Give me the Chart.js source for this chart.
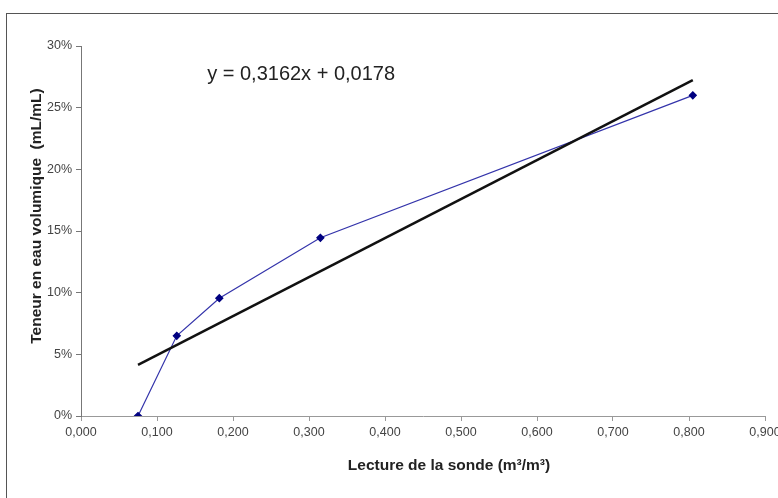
<!DOCTYPE html>
<html>
<head>
<meta charset="utf-8">
<script src="https://cdn.jsdelivr.net/npm/chart.js@4/dist/chart.umd.min.js"></script>
<style>
  html, body { margin: 0; padding: 0; background: #fff; }
  #wrap { position: relative; width: 778px; height: 498px; }
  #cadre { position: absolute; left: 6px; top: 13px; right: -2px; bottom: -2px;
           border-left: 1px solid #555; border-top: 1px solid #555; pointer-events: none; }
</style>
</head>
<body>
<div id="wrap">
  <canvas id="grafico" width="778" height="498"></canvas>
  <div id="cadre"></div>
</div>
<script>
// mesures : lecture de la sonde vs teneur en eau
const lectures = [0.075, 0.126, 0.182, 0.315, 0.805];
const teneurs = [0.0, 0.065, 0.0955, 0.1445, 0.26];
// droite de régression (Excel)
const pente = 0.3162;
const ordonnee = 0.0178;
const equation = 'y = 0,3162x + 0,0178';
const xTicks = [0, 0.1, 0.2, 0.3, 0.4, 0.5, 0.6, 0.7, 0.8, 0.9];
const yTicks = [0, 0.05, 0.10, 0.15, 0.20, 0.25, 0.30];
const titreX = 'Lecture de la sonde (m³/m³)';
const titreY = 'Teneur en eau volumique  (mL/mL)';

const points = lectures.map((x, i) => ({ x: x, y: teneurs[i] }));
const xMin = Math.min(...lectures), xMax = Math.max(...lectures);
const tendance = [
    { x: xMin, y: pente * xMin + ordonnee },
    { x: xMax, y: pente * xMax + ordonnee }
];

const police = '"Liberation Sans", Arial, sans-serif';

const textes = {
    id: 'textes',
    afterDraw(chart) {
        const c = chart.ctx;
        const sx = chart.scales.x, sy = chart.scales.y;
        c.save();
        c.fillStyle = '#222';
        c.font = '20px ' + police;
        c.textAlign = 'left';
        c.textBaseline = 'middle';
        c.fillText(equation, sx.getPixelForValue(0.166), sy.getPixelForValue(0.2765));

        c.font = 'bold 15.5px ' + police;
        c.textAlign = 'center';
        c.fillText(titreX, 449, 466);
        c.translate(37, 216);
        c.rotate(-Math.PI / 2);
        c.fillText(titreY, 0, 0);
        c.restore();
    }
};

const ctx = document.getElementById('grafico').getContext('2d');
new Chart(ctx, {
    type: 'scatter',
    data: {
        datasets: [{
            label: 'Mesures',
            data: points,
            showLine: true,
            borderColor: '#3333aa',
            borderWidth: 1.2,
            pointStyle: 'rectRot',
            pointRadius: 3.5,
            pointBackgroundColor: '#000080',
            pointBorderColor: '#000080',
            order: 2
        }, {
            label: 'Tendance',
            data: tendance,
            showLine: true,
            borderColor: '#111',
            borderWidth: 2.5,
            pointRadius: 0,
            order: 1
        }]
    },
    options: {
        responsive: false,
        animation: false,
        layout: { padding: { left: 0, right: 13, top: 46, bottom: 0 } },
        plugins: { legend: { display: false }, tooltip: { enabled: false } },
        scales: {
            x: {
                type: 'linear',
                min: 0, max: 0.9,
                afterBuildTicks: s => { s.ticks = xTicks.map(v => ({ value: v })); },
                afterFit: s => { s.height = 82; s.paddingLeft = 0; s.paddingRight = 0; },
                ticks: {
                    color: '#444',
                    font: { family: police, size: 12.5 },
                    padding: 4,
                    maxRotation: 0,
                    callback: v => v.toFixed(3).replace('.', ',')
                },
                grid: { drawOnChartArea: false, drawTicks: true, tickLength: 5, color: '#999' },
                border: { color: '#999', width: 1 }
            },
            y: {
                min: 0, max: 0.3,
                afterBuildTicks: s => { s.ticks = yTicks.map(v => ({ value: v })); },
                afterFit: s => { s.width = 81; s.paddingTop = 0; s.paddingBottom = 0; },
                ticks: {
                    color: '#444',
                    font: { family: police, size: 12.5 },
                    padding: 4,
                    callback: v => Math.round(v * 100) + '%'
                },
                grid: { drawOnChartArea: false, drawTicks: true, tickLength: 5, color: '#777' },
                border: { color: '#777', width: 1 }
            }
        }
    },
    plugins: [textes]
});
</script>
</body>
</html>
